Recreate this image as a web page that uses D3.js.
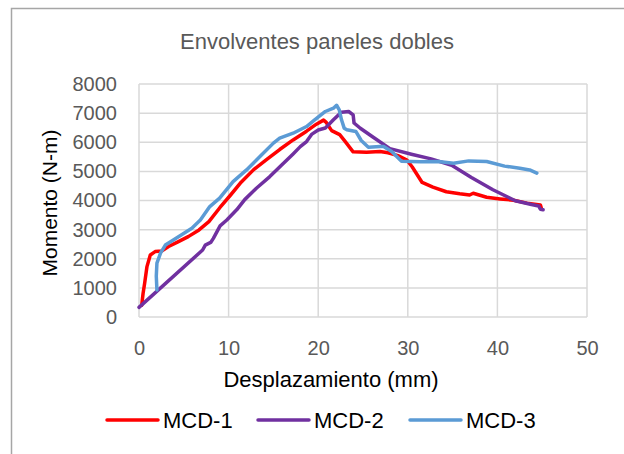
<html>

<head>
    <title>Envolventes paneles dobles</title>
    <style>
        body { margin: 0; background: #fff; }
        text { font-family: "Liberation Sans", Arial, sans-serif; }
    </style>
</head>

<body>
<div id="my_dataviz"></div>

<script src="https://d3js.org/d3.v7.min.js"></script>
<script>

    // curves: [desplazamiento (mm), momento (N-m)]
    var mcd1 = [[0.3, 400], [0.45, 800], [0.63, 1160], [0.89, 1730], [1.26, 2130], [1.8, 2245], [2.57, 2270],
        [3.3, 2420], [4.4, 2590], [5.5, 2760], [6.7, 2990], [7.8, 3275], [9.04, 3760], [10.2, 4180],
        [11.4, 4630], [12.8, 5060], [14.3, 5420], [15.7, 5750], [17.2, 6080], [18.7, 6380], [19.8, 6620],
        [20.6, 6760], [20.9, 6680], [21.5, 6400], [22.4, 6260], [23.0, 6030], [23.9, 5670], [25.4, 5660],
        [26.9, 5680], [27.8, 5640], [28.9, 5540], [29.9, 5390], [30.5, 5150], [31.6, 4620], [32.8, 4460],
        [34.3, 4300], [35.8, 4230], [36.9, 4190], [37.3, 4250], [38.8, 4110], [40.3, 4055], [41.8, 4010],
        [43.3, 3910], [44.8, 3850], [44.9, 3740]];

    var mcd2 = [[0, 330], [7.1, 2300], [7.4, 2470], [8.0, 2560], [8.3, 2700], [9.05, 3130], [9.8, 3330],
        [10.9, 3680], [11.8, 4030], [13.1, 4420], [14.6, 4820], [16.1, 5270], [17.2, 5600], [18.0, 5850],
        [18.7, 6024], [19.3, 6280], [20.0, 6420], [20.8, 6490], [21.7, 6770], [22.6, 7034], [23.4, 7056],
        [23.9, 6940], [24.0, 6660], [24.7, 6480], [26.1, 6180], [28.0, 5780], [30.4, 5590], [32.6, 5430],
        [34.9, 5210], [37.1, 4790], [39.5, 4370], [42.0, 3990], [43.8, 3860], [44.6, 3814], [44.8, 3700],
        [45.1, 3680]];

    var mcd3 = [[2.0, 930], [1.93, 1400], [2.0, 1850], [2.4, 2190], [2.94, 2470], [3.7, 2620], [4.8, 2830],
        [5.9, 3050], [6.85, 3330], [7.9, 3790], [9.0, 4080], [10.5, 4650], [12.0, 5050], [13.5, 5510],
        [15.0, 5970], [15.7, 6140], [17.2, 6310], [18.7, 6540], [19.5, 6740], [20.8, 7056], [21.7, 7170],
        [22.05, 7270], [22.35, 7113], [22.6, 6770], [22.9, 6484], [23.2, 6430], [24.2, 6370], [24.8, 6060],
        [25.6, 5830], [26.9, 5850], [27.3, 5852], [28.2, 5680], [29.3, 5350], [31.4, 5330], [33.4, 5340],
        [35.1, 5280], [36.8, 5360], [38.8, 5340], [40.8, 5180], [42.5, 5110], [43.6, 5050], [44.4, 4940]];

    var seriesNames = ["MCD-1", "MCD-2", "MCD-3"];
    var seriesColors = ["#ff0000", "#7030a0", "#5b9bd5"];
    var xTicks = [0, 10, 20, 30, 40, 50];
    var yTicks = [0, 1000, 2000, 3000, 4000, 5000, 6000, 7000, 8000];

    var W = 624, H = 454;
    var margin = { top: 84, right: 37, bottom: 137, left: 139 },
        width = W - margin.left - margin.right,
        height = H - margin.top - margin.bottom;

    var root = d3.select("#my_dataviz")
        .append("svg")
        .attr("width", W)
        .attr("height", H);

    // chart frame (only top/left edges fall inside the picture)
    root.append("rect")
        .attr("x", 11.5)
        .attr("y", 8.5)
        .attr("width", 800)
        .attr("height", 800)
        .attr("fill", "none")
        .attr("stroke", "#a6a6a6")
        .attr("stroke-width", 1.5);

    var svg = root.append("g")
        .attr("transform", "translate(" + margin.left + "," + margin.top + ")");

    var x = d3.scaleLinear().domain([0, 50]).range([0, width]);
    var y = d3.scaleLinear().domain([0, 8000]).range([height, 0]);

    // grid lines
    svg.append("g")
        .selectAll("line.h")
        .data(yTicks)
        .enter()
        .append("line")
        .attr("x1", 0)
        .attr("x2", width)
        .attr("y1", function (d) { return y(d); })
        .attr("y2", function (d) { return y(d); })
        .attr("stroke", "#d9d9d9")
        .attr("stroke-width", 1.5);

    svg.append("g")
        .selectAll("line.v")
        .data(xTicks)
        .enter()
        .append("line")
        .attr("x1", function (d) { return x(d); })
        .attr("x2", function (d) { return x(d); })
        .attr("y1", 0)
        .attr("y2", height)
        .attr("stroke", "#d9d9d9")
        .attr("stroke-width", 1.5);

    // axes: only the labels, lines come from the grid
    var xAxis = svg.append("g")
        .attr("transform", "translate(0," + height + ")")
        .call(d3.axisBottom(x).tickValues(xTicks).tickFormat(d3.format("d")).tickSize(0).tickPadding(24));
    var yAxis = svg.append("g")
        .call(d3.axisLeft(y).tickValues(yTicks).tickFormat(d3.format("d")).tickSize(0).tickPadding(22));

    [xAxis, yAxis].forEach(function (a) {
        a.select(".domain").remove();
        a.selectAll("text")
            .attr("fill", "#595959")
            .style("font-size", "20px")
            .style("font-family", "'Liberation Sans', Arial, sans-serif");
    });

    // curves
    var line = d3.line()
        .x(function (d) { return x(d[0]); })
        .y(function (d) { return y(d[1]); });

    [mcd1, mcd2, mcd3].forEach(function (s, i) {
        svg.append("path")
            .datum(s)
            .attr("fill", "none")
            .attr("stroke", seriesColors[i])
            .attr("stroke-width", 3.5)
            .attr("stroke-linejoin", "round")
            .attr("stroke-linecap", "round")
            .attr("d", line);
    });

    // title
    root.append("text")
        .attr("x", 317)
        .attr("y", 49)
        .attr("text-anchor", "middle")
        .attr("fill", "#595959")
        .style("font-size", "22px")
        .text("Envolventes paneles dobles");

    // text label for the x axis
    root.append("text")
        .attr("x", 331)
        .attr("y", 387)
        .attr("text-anchor", "middle")
        .attr("fill", "#000")
        .style("font-size", "22px")
        .text("Desplazamiento (mm)");

    // text label for the y axis
    root.append("text")
        .attr("transform", "translate(57," + 203 + ") rotate(-90)")
        .attr("text-anchor", "middle")
        .attr("fill", "#000")
        .style("font-size", "21px")
        .text("Momento (N-m)");

    // legend
    var legendX = [107, 258, 410];
    var legend = root.append("g")
        .selectAll("g")
        .data(seriesNames)
        .enter()
        .append("g")
        .attr("transform", function (d, i) { return "translate(" + legendX[i] + ",420)"; });

    legend.append("line")
        .attr("x1", 0)
        .attr("x2", 51)
        .attr("stroke", function (d, i) { return seriesColors[i]; })
        .attr("stroke-width", 3.5)
        .attr("stroke-linecap", "round");

    legend.append("text")
        .attr("x", 56)
        .attr("y", 8)
        .attr("fill", "#000")
        .style("font-size", "22px")
        .text(function (d) { return d; });

</script>
</body>

</html>
